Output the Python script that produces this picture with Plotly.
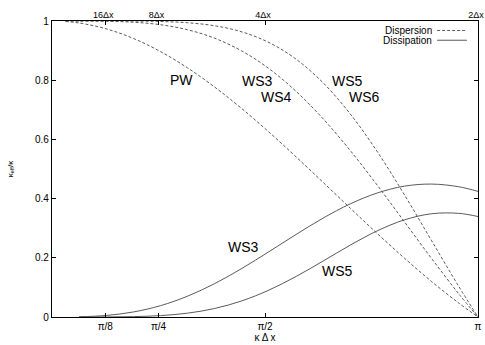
import plotly.graph_objects as go
import math

PI = math.pi

# Dispersion (dashed) curves
k_disp = [0.1, 0.2, 0.4, 0.6, 0.8, 1.0, 1.2, 1.4, 1.6, 1.8, 2.0, 2.2, 2.4, 2.6, 2.8, 3.0, PI]
pw_disp = [0.9983, 0.9933, 0.9735, 0.9411, 0.8967, 0.8415, 0.7767, 0.7039, 0.6247, 0.5410,
           0.4546, 0.3675, 0.2814, 0.1983, 0.1196, 0.0470, 0.0]
ws3_disp = [1.0000, 1.0000, 0.9992, 0.9959, 0.9874, 0.9704, 0.9418, 0.8986, 0.8391, 0.7623,
            0.6693, 0.5621, 0.4444, 0.3210, 0.1971, 0.0782, 0.0]
ws5_disp = [1.0000, 1.0000, 1.0000, 0.9997, 0.9984, 0.9941, 0.9839, 0.9633, 0.9273, 0.8710,
            0.7908, 0.6857, 0.5577, 0.4121, 0.2573, 0.1031, 0.0]

# Dissipation (solid) curves
k_diss = [0.2, 0.4, 0.6, 0.8, 1.0, 1.2, 1.4, 1.6, 1.8, 2.0, 2.2, 2.4, 2.6, 2.8, 3.0, PI]
ws3_diss = [0.0007, 0.0052, 0.0170, 0.0383, 0.0704, 0.1129, 0.1640, 0.2207, 0.2789, 0.3343,
            0.3823, 0.4192, 0.4421, 0.4491, 0.4400, 0.4244]
ws5_diss = [0.0000, 0.0002, 0.0012, 0.0047, 0.0130, 0.0288, 0.0545, 0.0909, 0.1369, 0.1893,
            0.2429, 0.2914, 0.3283, 0.3489, 0.3502, 0.3395]

# Tick labels
x_tickvals = [PI / 8, PI / 4, PI / 2, PI]
x_bottom_text = ["π/8", "π/4", "π/2", "π"]
x_top_text = ["16Δx", "8Δx", "4Δx", "2Δx"]
y_tickvals = [0, 0.2, 0.4, 0.6, 0.8, 1.0]
y_ticktext = ["0", "0.2", "0.4", "0.6", "0.8", "1"]

# Curve labels: (text, x, y)
curve_labels = [
    ("PW", 0.954, 0.801),
    ("WS3", 1.515, 0.796),
    ("WS4", 1.656, 0.742),
    ("WS5", 2.181, 0.796),
    ("WS6", 2.306, 0.742),
    ("WS3", 1.412, 0.238),
    ("WS5", 2.107, 0.155),
]

FONT = "Liberation Sans, Arial, Helvetica, sans-serif"
LINE_COL = "#5a5a5a"

fig = go.Figure()

for ys in (pw_disp, ws3_disp, ws5_disp):
    fig.add_trace(go.Scatter(x=k_disp, y=ys, mode="lines",
                             line=dict(color=LINE_COL, width=1, dash="3px,2px", shape="spline"),
                             showlegend=False, hoverinfo="skip"))
for ys in (ws3_diss, ws5_diss):
    fig.add_trace(go.Scatter(x=k_diss, y=ys, mode="lines",
                             line=dict(color=LINE_COL, width=1, shape="spline"),
                             showlegend=False, hoverinfo="skip"))

# invisible trace for top axis
fig.add_trace(go.Scatter(x=[0, PI], y=[0, 0], xaxis="x2", mode="lines",
                         line=dict(width=0), showlegend=False, hoverinfo="skip", opacity=0))

for txt, xx, yy in curve_labels:
    fig.add_annotation(x=xx, y=yy, text=txt, showarrow=False, xref="x", yref="y",
                       font=dict(family=FONT, size=14, color="#000"))

# Manual gnuplot-style legend
legend_items = [("Dispersion", "3px,2px", 0.968), ("Dissipation", "solid", 0.935)]
for name, dash, yy in legend_items:
    fig.add_annotation(x=0.896, y=yy, xref="paper", yref="paper", text=name,
                       showarrow=False, xanchor="right", yanchor="middle",
                       font=dict(family=FONT, size=10, color="#000"))
    fig.add_shape(type="line", xref="paper", yref="paper", x0=0.904, x1=0.974, y0=yy, y1=yy,
                  line=dict(color=LINE_COL, width=1, dash=dash))

fig.update_layout(
    width=485, height=345,
    margin=dict(l=52, r=7, t=21, b=28),
    paper_bgcolor="white", plot_bgcolor="white",
    font=dict(family=FONT, size=10, color="#000"),
    showlegend=False,
    xaxis=dict(range=[0, PI], tickvals=x_tickvals, ticktext=x_bottom_text, automargin=False,
               ticks="inside", ticklen=4, tickcolor="#000", showline=True, linecolor="#000",
               linewidth=1.2, mirror="ticks", showgrid=False, zeroline=False,
               ticklabeloverflow="allow",
               tickfont=dict(family=FONT, size=10),
               title=dict(text="κ Δ x", font=dict(family=FONT, size=10), standoff=2)),
    xaxis2=dict(range=[0, PI], overlaying="x", side="top", tickvals=x_tickvals, automargin=False,
                ticktext=x_top_text, ticks="", showline=False, showgrid=False,
                ticklabeloverflow="allow", ticklabelshift=-2,
                zeroline=False, tickfont=dict(family=FONT, size=9)),
    yaxis=dict(range=[0, 1], tickvals=y_tickvals, ticktext=y_ticktext, automargin=False,
               ticks="inside", ticklen=4, tickcolor="#000", showline=True, linecolor="#000",
               linewidth=1.2, mirror="ticks", showgrid=False, zeroline=False,
               tickfont=dict(family=FONT, size=10),
               title=dict(text="κ<sub>eff</sub>/κ", font=dict(family=FONT, size=8), standoff=20)),
)

fig.write_html("out.html", config={"displayModeBar": False},
               post_script="document.body.style.margin='0px';document.body.style.overflow='hidden';")
